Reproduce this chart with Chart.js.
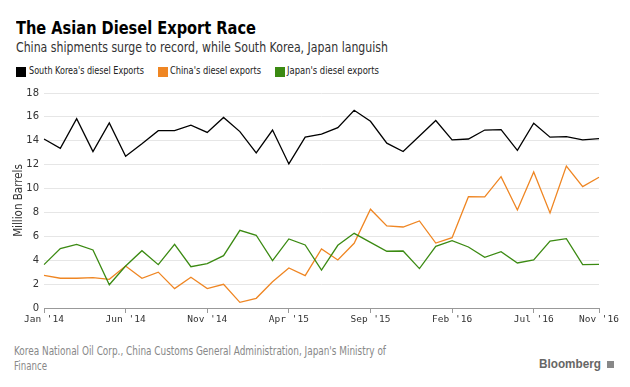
<!DOCTYPE html>
<html>
<head>
<meta charset="utf-8">
<script src="https://cdn.jsdelivr.net/npm/chart.js@4.4.1/dist/chart.umd.min.js"></script>
<style>
  html, body { margin: 0; padding: 0; background: #fff; }
  body { width: 630px; height: 387px; position: relative; overflow: hidden;
         font-family: "DejaVu Sans Condensed", "DejaVu Sans", sans-serif; }
  .fit { position: absolute; white-space: nowrap; transform-origin: 0 0; display: inline-block; }
  #title { left: 16px; top: 18px; font-size: 17.5px; font-weight: bold; color: #000; }
  #subtitle { left: 16px; top: 39px; font-size: 14.5px; color: #333; }
  .lgtext { top: 64px; font-size: 11px; color: #222; }
  .lgbox { position: absolute; top: 67px; width: 10px; height: 10px; }
  #chartwrap { position: absolute; left: 0; top: 80px; width: 630px; height: 255px; }
  .src { left: 14px; font-size: 12px; color: #888; }
  #brand { left: 539px; top: 356px; font-size: 13px; font-weight: bold; color: #666; font-family: "Liberation Sans", sans-serif; }
  #brandicon { position: absolute; left: 607px; top: 361px; width: 7px; height: 7px; background: #888; }
</style>
</head>
<body>
<div id="title" class="fit" data-w="240">The Asian Diesel Export Race</div>
<div id="subtitle" class="fit" data-w="372">China shipments surge to record, while South Korea, Japan languish</div>
<div id="legend"></div>
<div id="chartwrap"><canvas id="c" width="630" height="255"></canvas></div>
<div class="fit src" style="top:344px" data-w="372">Korea National Oil Corp., China Customs General Administration, Japan's Ministry of</div>
<div class="fit src" style="top:359px" data-w="33">Finance</div>
<div id="brand" class="fit" data-w="62">Bloomberg</div>
<div id="brandicon"></div>
<script>
const months = [
  "Jan '14","Feb '14","Mar '14","Apr '14","May '14","Jun '14","Jul '14","Aug '14","Sep '14","Oct '14","Nov '14","Dec '14",
  "Jan '15","Feb '15","Mar '15","Apr '15","May '15","Jun '15","Jul '15","Aug '15","Sep '15","Oct '15","Nov '15","Dec '15",
  "Jan '16","Feb '16","Mar '16","Apr '16","May '16","Jun '16","Jul '16","Aug '16","Sep '16","Oct '16","Nov '16"
];
const shownTickLabels = ["Jan '14","Jun '14","Nov '14","Apr '15","Sep '15","Feb '16","Jul '16","Nov '16"];

const seriesNames = ["South Korea's diesel Exports", "China's diesel exports", "Japan's diesel exports"];
const seriesColors = ["#000000", "#ef8623", "#3b8a12"];

const southKorea = [14.15,13.37,15.85,13.1,15.5,12.7,13.75,14.85,14.85,15.3,14.7,15.95,
                    14.77,12.98,14.9,12.06,14.3,14.55,15.1,16.55,15.63,13.8,13.1,14.4,
                    15.7,14.07,14.15,14.9,14.93,13.2,15.47,14.3,14.35,14.07,14.18];
const china = [2.74,2.49,2.49,2.54,2.4,3.52,2.49,3.0,1.62,2.57,1.62,1.98,
               0.47,0.81,2.2,3.35,2.71,4.94,4.02,5.42,8.27,6.87,6.78,7.29,
               5.44,5.89,9.32,9.3,11.0,8.21,11.39,7.96,11.89,10.16,10.95];
const japan = [3.63,4.97,5.33,4.86,1.95,3.52,4.8,3.63,5.33,3.46,3.71,4.38,
               6.5,6.09,3.96,5.78,5.28,3.18,5.25,6.25,5.5,4.75,4.77,3.3,
               5.16,5.64,5.11,4.24,4.72,3.77,4.02,5.61,5.8,3.63,3.66];
const yTicks = [0,2,4,6,8,10,12,14,16,18];

const seriesData = [southKorea, china, japan];

// legend (HTML)
const legendLayout = [ { box: 16, text: 29, w: 115 }, { box: 158, text: 170, w: 91 }, { box: 275, text: 287, w: 92 } ];
const lg = document.getElementById('legend');
seriesNames.forEach((n, i) => {
  const b = document.createElement('div'); b.className = 'lgbox';
  b.style.left = legendLayout[i].box + 'px'; b.style.background = seriesColors[i];
  const t = document.createElement('div'); t.className = 'fit lgtext';
  t.style.left = legendLayout[i].text + 'px'; t.dataset.w = legendLayout[i].w;
  t.textContent = n;
  lg.appendChild(b); lg.appendChild(t);
});

// fit text widths
document.querySelectorAll('.fit').forEach(el => {
  const target = parseFloat(el.dataset.w);
  const w = el.getBoundingClientRect().width;
  if (target && w) el.style.transform = 'scaleX(' + (target / w) + ')';
});

const datasets = seriesNames.map((n, i) => ({
  label: n,
  data: seriesData[i],
  borderColor: seriesColors[i],
  backgroundColor: seriesColors[i],
  borderWidth: 1.3,
  pointRadius: 0,
  tension: 0,
  fill: false
})).reverse();

const tickFont = { family: "DejaVu Sans Mono", size: 9.5 };

new Chart(document.getElementById('c'), {
  type: 'line',
  data: { labels: months, datasets },
  options: {
    responsive: false,
    animation: false,
    events: [],
    layout: { padding: { left: 0, right: 31, top: 13, bottom: 0 } },
    plugins: { legend: { display: false }, tooltip: { enabled: false } },
    scales: {
      x: {
        type: 'category',
        offset: false,
        border: { display: true, color: '#999', width: 1 },
        grid: {
          drawOnChartArea: false,
          drawTicks: true,
          tickLength: 5,
          color: (ctx) => (ctx.tick && shownTickLabels.includes(months[ctx.index])) ? '#999' : 'rgba(0,0,0,0)'
        },
        ticks: {
          autoSkip: false,
          maxRotation: 0,
          minRotation: 0,
          padding: 1,
          color: '#333',
          font: tickFont,
          callback: (v, i) => shownTickLabels.includes(months[i]) ? months[i] : ''
        },
        afterFit: (s) => { s.height = 27; }
      },
      y: {
        min: 0, max: 18,
        border: { display: false },
        grid: { color: '#e6e6e6', lineWidth: 1, drawTicks: false },
        afterBuildTicks: (s) => { s.ticks = yTicks.map(v => ({ value: v })); },
        ticks: { padding: 5, color: '#333', font: { family: "DejaVu Sans", size: 10 } },
        title: {
          display: true,
          text: 'Million Barrels',
          color: '#333',
          font: { family: "DejaVu Sans Condensed", size: 11.5 },
          padding: { top: 12, bottom: 0 }
        },
        afterFit: (s) => { s.width = 44; }
      }
    }
  }
});
</script>
</body>
</html>
